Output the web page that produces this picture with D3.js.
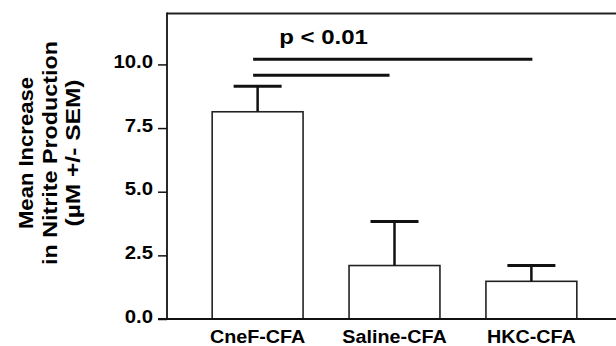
<!DOCTYPE html>
<html>
<head>
<meta charset="utf-8">
<script src="https://cdn.jsdelivr.net/npm/d3@7"></script>
<style>
  html, body { margin: 0; padding: 0; background: #fff; }
  svg { display: block; }
  text { font-family: "Liberation Sans", Arial, sans-serif; font-weight: bold; fill: #000; }
</style>
</head>
<body>
<svg id="chart" width="616" height="346"></svg>
<script>
(function () {
// ---- data ----
const categories = ["CneF-CFA", "Saline-CFA", "HKC-CFA"];
const means = [8.14, 2.1, 1.48];
const sems = [1.0, 1.73, 0.62];
const yTicks = [0, 2.5, 5, 7.5, 10];
const sigFrom = ["CneF-CFA", "CneF-CFA"];
const sigTo = ["HKC-CFA", "Saline-CFA"];
const sigLevel = [10.2, 9.57];
const sigLabel = "p < 0.01";
const yTitleLines = ["Mean Increase", "in Nitrite Production", "(\u00B5M +/- SEM)"];

// ---- layout ----
const W = 616;
const mLeft = 167, mBottom = 319, mTop = 13.5;
const svg = d3.select("#chart");

const x = d3.scaleBand().domain(categories).range([mLeft, 622])
  .paddingInner(0.336).paddingOuter(0.33);
const y = d3.scaleLinear().domain([0, 12]).range([mBottom, mTop]);
const cx = c => x(c) + x.bandwidth() / 2;

// frame: top line and left axis
svg.append("line").attr("x1", mLeft).attr("x2", W).attr("y1", y(12)).attr("y2", y(12))
  .attr("stroke", "#222").attr("stroke-width", 1.8);
svg.append("line").attr("x1", mLeft).attr("x2", mLeft).attr("y1", y(12) - 0.9).attr("y2", mBottom + 1)
  .attr("stroke", "#111").attr("stroke-width", 1.8);

// y axis ticks
const yAxis = d3.axisLeft(y).tickValues(yTicks).tickSize(9).tickFormat(d3.format(".1f"));
const gy = svg.append("g").attr("transform", `translate(${mLeft},0)`).call(yAxis);
gy.select(".domain").remove();
gy.selectAll(".tick line").attr("stroke", "#111").attr("stroke-width", 1.5);
gy.selectAll(".tick text").remove();
yTicks.forEach(t => {
  svg.append("text")
    .attr("transform", `translate(${mLeft - 14},${y(t) + 3.5}) scale(1.13,1)`)
    .attr("text-anchor", "end")
    .style("font-size", "18px")
    .text(d3.format(".1f")(t));
});

// bars
svg.selectAll("rect.bar").data(categories).join("rect")
  .attr("class", "bar")
  .attr("x", d => x(d))
  .attr("width", x.bandwidth())
  .attr("y", (d, i) => y(means[i]))
  .attr("height", (d, i) => y(0) - y(means[i]))
  .attr("fill", "#fff").attr("stroke", "#222").attr("stroke-width", 1.6);

// baseline
svg.append("line").attr("x1", mLeft - 9).attr("x2", W).attr("y1", mBottom).attr("y2", mBottom)
  .attr("stroke", "#111").attr("stroke-width", 2);

// error bars
categories.forEach((c, i) => {
  svg.append("line").attr("x1", cx(c)).attr("x2", cx(c))
    .attr("y1", y(means[i])).attr("y2", y(means[i] + sems[i]))
    .attr("stroke", "#111").attr("stroke-width", 2.5);
  svg.append("line").attr("x1", cx(c) - 24).attr("x2", cx(c) + 24)
    .attr("y1", y(means[i] + sems[i])).attr("y2", y(means[i] + sems[i]))
    .attr("stroke", "#111").attr("stroke-width", 3);
});

// category labels
categories.forEach(c => {
  svg.append("text")
    .attr("transform", `translate(${cx(c)},${342.5}) scale(1.13,1)`)
    .attr("text-anchor", "middle")
    .style("font-size", "17.5px")
    .text(c);
});

// significance lines
sigFrom.forEach((f, i) => {
  svg.append("line")
    .attr("x1", cx(f) - 4.5).attr("x2", cx(sigTo[i]) + (i === 0 ? 1 : -5))
    .attr("y1", y(sigLevel[i])).attr("y2", y(sigLevel[i]))
    .attr("stroke", "#111").attr("stroke-width", 3);
});
svg.append("text")
  .attr("transform", `translate(${323.5},${43.5}) scale(1.2,1)`)
  .attr("text-anchor", "middle")
  .style("font-size", "20px")
  .text(sigLabel);

// y axis title
const titleX = [33, 57, 80];
const titleLen = [152, 224, 147];
yTitleLines.forEach((t, i) => {
  svg.append("text")
    .attr("transform", `translate(${titleX[i]},${153}) rotate(-90)`)
    .attr("text-anchor", "middle")
    .attr("textLength", titleLen[i])
    .attr("lengthAdjust", "spacingAndGlyphs")
    .style("font-size", "20.5px")
    .text(t);
});
})();
</script>
</body>
</html>
